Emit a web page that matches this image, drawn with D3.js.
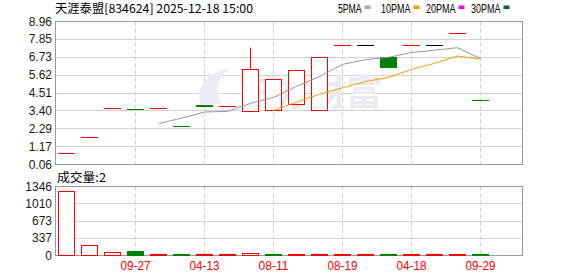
<!DOCTYPE html>
<meta charset="utf-8">
<style>
body { margin: 0; background: #fff; }
svg text { font-family: "Liberation Sans", Arial, sans-serif; }
.cjk { font-family: "Noto Sans CJK SC", "Liberation Sans", sans-serif; }
</style>
<svg width="578" height="276"></svg>
<script src="https://d3js.org/d3.v7.min.js"></script>
<script>
// labels under every third candle, the rest are not shown
var dates = ["", "", "", "09-27", "", "", "04-13", "", "", "08-11", "", "", "08-19", "", "", "04-18", "", "", "09-29"];
var opens  = [0.77, 1.73, 3.52, 3.50, 3.52, 2.45, 3.72, 3.69, 3.38, 3.44, 3.81, 3.44, 7.44, 7.44, 6.75, 7.44, 7.44, 8.23, 4.06];
var closes = [0.77, 1.73, 3.52, 3.50, 3.52, 2.45, 3.66, 3.69, 5.99, 5.37, 5.93, 6.73, 7.44, 7.44, 6.10, 7.44, 7.44, 8.23, 4.06];
var highs  = [0.77, 1.73, 3.52, 3.50, 3.52, 2.45, 3.72, 3.69, 7.37, 5.37, 5.93, 6.73, 7.44, 7.44, 6.75, 7.44, 7.44, 8.23, 4.06];
var lows   = [0.77, 1.73, 3.52, 3.50, 3.52, 2.45, 3.66, 3.69, 3.38, 3.44, 3.81, 3.44, 7.44, 7.44, 6.10, 7.44, 7.44, 8.23, 4.06];
var volumes = [1255, 196, 59, 84, 12, 15, 10, 8, 40, 15, 10, 5, 6, 4, 10, 5, 3, 6, 2];

var priceTicks = [0.06, 1.17, 2.29, 3.40, 4.51, 5.62, 6.73, 7.85, 8.96];
var volTicks = [0, 337, 673, 1010, 1346];

var maNames = ["5PMA", "10PMA", "20PMA", "30PMA"];
var maColors = ["#aaaaaa", "#f5a000", "#ff00ff", "#007030"];

var RED = "#ff0000", GREEN = "#008000";

var svg = d3.select("svg");
var left = 55.5, right = 522.5;

var x = d3.scaleBand()
    .domain(d3.range(dates.length))
    .range([54.5, 491.5])
    .paddingInner(0.3)
    .paddingOuter(0.15);
var y = d3.scaleLinear().domain([0.06, 8.96]).range([164.5, 21.5]);
var yv = d3.scaleLinear().domain([0, 1346]).range([255.5, 186.5]);

function cx(i) { return Math.round(x(i) + x.bandwidth() / 2) + 0.5; }
function crisp(v) { return Math.round(v - 0.5) + 0.5; }

function movingAvg(n) {
    return closes.map(function(c, i) {
        if (i < n - 1) return null;
        return d3.mean(closes.slice(i - n + 1, i + 1));
    });
}

// direction against previous close, used for flat candles and volume
function upDay(i) {
    return i == 0 || closes[i] >= closes[i - 1];
}

var tickIdx = d3.range(dates.length).filter(function(i) { return dates[i] != ""; });

function drawPanel(scale, ticks, top, bottom, fmt) {
    var g = svg.append("g");
    g.selectAll("line.h")
        .data(ticks)
        .enter().append("line")
        .attr("x1", left).attr("x2", right)
        .attr("y1", function(d) { return crisp(scale(d)); })
        .attr("y2", function(d) { return crisp(scale(d)); })
        .attr("stroke", "#d3d3d3");
    g.selectAll("line.v")
        .data(tickIdx)
        .enter().append("line")
        .attr("x1", cx).attr("x2", cx)
        .attr("y1", top).attr("y2", bottom)
        .attr("stroke", "#cccccc")
        .attr("stroke-dasharray", "4,3");
    g.selectAll("text")
        .data(ticks)
        .enter().append("text")
        .attr("x", 52)
        .attr("y", function(d) { return scale(d) + 4; })
        .attr("text-anchor", "end")
        .attr("font-size", 12)
        .attr("fill", "#1a1a1a")
        .text(fmt);
    return g;
}

drawPanel(y, priceTicks, 21.5, 164.5, function(d) { return d.toFixed(2); });
drawPanel(yv, volTicks, 186.5, 255.5, function(d) { return d; });

// watermark
svg.append("text")
    .attr("class", "cjk")
    .attr("x", 238).attr("y", 106)
    .attr("font-size", 36)
    .attr("font-weight", "bold")
    .attr("fill", "#ebebef")
    .text("东方财富");
svg.append("path")
    .attr("d", "M200,104 C196,88 206,72 230,68 C216,78 214,92 222,104 Z")
    .attr("fill", "#ececf0");

// frames
svg.append("rect").attr("x", left).attr("y", 21.5).attr("width", right - left).attr("height", 143)
    .attr("fill", "none").attr("stroke", "#999");
svg.append("rect").attr("x", left).attr("y", 186.5).attr("width", right - left).attr("height", 69)
    .attr("fill", "none").attr("stroke", "#999");

// candles
var candles = svg.append("g").selectAll("g")
    .data(d3.range(dates.length))
    .enter().append("g");

candles.each(function(i) {
    var g = d3.select(this);
    var x0 = Math.round(x(i)) + 0.5;
    var w = Math.round(x.bandwidth());
    var o = opens[i], c = closes[i];
    if (o == c) {
        var col = i > 0 && c == closes[i - 1] ? "#000" : (upDay(i) ? RED : GREEN);
        g.append("line")
            .attr("x1", x0 - 0.5).attr("x2", x0 + w + 0.5)
            .attr("y1", crisp(y(c))).attr("y2", crisp(y(c)))
            .attr("stroke", col);
        return;
    }
    var up = c > o;
    var col2 = up ? RED : GREEN;
    var yTop = crisp(y(Math.max(o, c))), yBot = crisp(y(Math.min(o, c)));
    g.append("line")
        .attr("x1", cx(i)).attr("x2", cx(i))
        .attr("y1", crisp(y(highs[i]))).attr("y2", crisp(y(lows[i])))
        .attr("stroke", col2);
    g.append("rect")
        .attr("x", x0).attr("y", yTop)
        .attr("width", w).attr("height", Math.max(1, yBot - yTop))
        .attr("fill", up ? "#fff" : GREEN)
        .attr("stroke", col2);
});

// moving averages
[5, 10].forEach(function(n, k) {
    var ma = movingAvg(n);
    svg.append("path")
        .datum(d3.range(dates.length))
        .attr("fill", "none")
        .attr("stroke", k == 0 ? "#999999" : "#f5a000")
        .attr("stroke-width", 1)
        .attr("d", d3.line()
            .defined(function(i) { return ma[i] != null; })
            .x(function(i) { return cx(i); })
            .y(function(i) { return y(ma[i]); }));
});

// volume bars
svg.append("g").selectAll("rect")
    .data(d3.range(dates.length))
    .enter().append("rect")
    .attr("x", function(i) { return Math.round(x(i)) + 0.5; })
    .attr("width", Math.round(x.bandwidth()))
    .attr("y", function(i) { return Math.min(254.5, crisp(yv(volumes[i]))); })
    .attr("height", function(i) { return Math.max(1, 255.5 - crisp(yv(volumes[i]))); })
    .attr("fill", function(i) { return upDay(i) ? "#fff" : GREEN; })
    .attr("stroke", function(i) { return upDay(i) ? RED : GREEN; });

// date labels
svg.append("g").selectAll("text")
    .data(tickIdx)
    .enter().append("text")
    .attr("x", function(i) { return cx(i); })
    .attr("y", 270)
    .attr("text-anchor", "middle")
    .attr("font-size", 12)
    .attr("fill", RED)
    .attr("textLength", 30)
    .attr("lengthAdjust", "spacingAndGlyphs")
    .text(function(i) { return dates[i]; });

// title
svg.append("text")
    .attr("class", "cjk")
    .attr("x", 55).attr("y", 13)
    .attr("font-size", 12)
    .attr("textLength", 198)
    .attr("lengthAdjust", "spacingAndGlyphs")
    .text("天涯泰盟[834624] 2025-12-18 15:00");

// legend
var legendX = [338, 381, 426, 471];
var legend = svg.append("g").selectAll("g")
    .data(maNames)
    .enter().append("g");
legend.append("text")
    .attr("x", function(d, k) { return legendX[k]; })
    .attr("y", 12.5)
    .attr("font-size", 12)
    .attr("textLength", function(d) { return d.length * 5.9; })
    .attr("lengthAdjust", "spacingAndGlyphs")
    .text(function(d) { return d; });
legend.append("rect")
    .attr("x", function(d, k) { return legendX[k] + d.length * 5.9 + 3; })
    .attr("y", 5.5)
    .attr("width", 6).attr("height", 3.5)
    .attr("fill", function(d, k) { return maColors[k]; });

// volume label
svg.append("text")
    .attr("class", "cjk")
    .attr("x", 57).attr("y", 182)
    .attr("font-size", 12)
    .attr("textLength", 49)
    .attr("lengthAdjust", "spacingAndGlyphs")
    .text("成交量:" + volumes[volumes.length - 1]);
</script>
